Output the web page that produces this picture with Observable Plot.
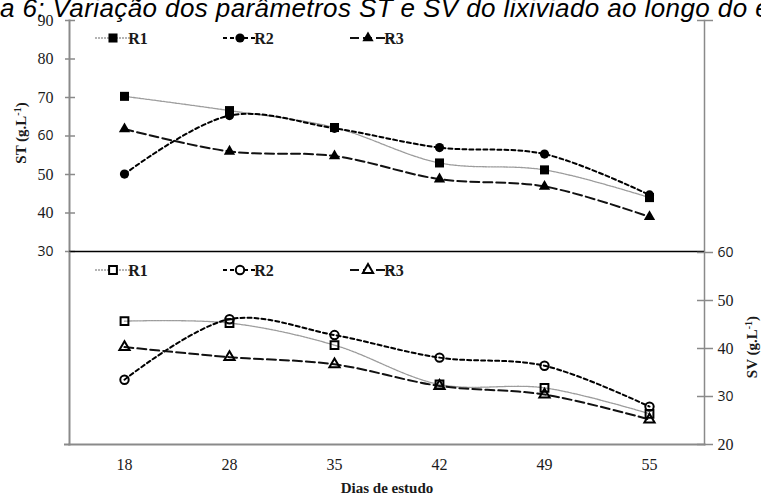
<!DOCTYPE html>
<html><head><meta charset="utf-8">
<script src="https://cdn.jsdelivr.net/npm/d3@7"></script>
<script src="https://cdn.jsdelivr.net/npm/@observablehq/plot@0.6"></script>
<style>
body{margin:0;background:#fff;}
#wrap{position:relative;width:761px;height:497px;overflow:hidden;background:#fff;}
#wrap svg{position:absolute;left:0;top:0;}
#wrap svg text{font-family:"Liberation Serif","Times New Roman",serif !important;}
#wrap svg text.sanslab{font-family:"Open Sans",sans-serif !important;font-size:14px;}
#title{position:absolute;left:0;top:-7px;font:italic 26px "Liberation Sans",Arial,sans-serif;letter-spacing:0.4px;white-space:nowrap;color:#000;z-index:5;}
</style></head>
<body><div id="wrap"><div id="title">a 6: Variação dos parâmetros ST e SV do lixiviado ao longo do e</div></div>
<script>
// ---- data ----
const days = ["18","28","35","42","49","55"];
const series = ["R1","R2","R3"];
const stR1 = [70.3, 66.6, 62.2, 53.0, 51.2, 44.0];
const stR2 = [50.1, 65.3, 62.0, 57.0, 55.3, 44.7];
const stR3 = [61.8, 56.0, 54.8, 48.8, 46.9, 39.0];
const svR1 = [45.7, 45.3, 40.7, 32.5, 31.8, 26.4];
const svR2 = [33.5, 46.1, 42.8, 38.1, 36.4, 27.9];
const svR3 = [40.3, 38.2, 36.7, 32.2, 30.4, 25.2];
const stTicks = [30, 40, 50, 60, 70, 80, 90];
const svTicks = [20, 30, 40, 50, 60];

const stVals = {R1: stR1, R2: stR2, R3: stR3};
const svVals = {R1: svR1, R2: svR2, R3: svR3};
const toRows = vals => series.flatMap(s => days.map((d, i) => ({day: d, value: vals[s][i], series: s})));
const stData = toRows(stVals);
const svData = toRows(svVals);

const sty = {
  R1: {stroke: "#9c9c9c", strokeWidth: 1.3, strokeDasharray: "2,1", symbol: "square", rF: 5.1, rO: 4.4},
  R2: {stroke: "#000", strokeWidth: 2, strokeDasharray: "4,3", symbol: "circle", rF: 4.6, rO: 4.2},
  R3: {stroke: "#111", strokeWidth: 2, strokeDasharray: "9,4", symbol: "triangle", rF: 4.2, rO: 3.8}
};
const markerOrder = ["R2", "R1", "R3"];
const W = 761, H = 497, ML = 69, MR = 57;
const grey = "#8a8a8a";

function seriesMarks(data, filled) {
  const marks = [];
  for (const s of ["R1", "R2", "R3"]) {
    marks.push(Plot.line(data.filter(d => d.series === s), {
      x: "day", y: "value", curve: "catmull-rom",
      stroke: sty[s].stroke, strokeWidth: sty[s].strokeWidth, strokeDasharray: sty[s].strokeDasharray
    }));
  }
  for (const s of markerOrder) {
    marks.push(Plot.dot(data.filter(d => d.series === s), filled ? {
      x: "day", y: "value", symbol: sty[s].symbol, r: sty[s].rF, fill: "#000", stroke: "none"
    } : {
      x: "day", y: "value", symbol: sty[s].symbol, r: sty[s].rO, fill: "none", stroke: "#000", strokeWidth: 2
    }));
  }
  return marks;
}

const common = {
  width: W, height: H, marginLeft: ML, marginRight: MR,
  x: {type: "point", domain: days, padding: 0.5},
  style: {background: "transparent", overflow: "visible", fontSize: "16px", color: "#1a1a1a"}
};
const lab = {tickSize: 0, label: null, fontSize: 16};

// ---- top panel (ST) ----
const topPlot = Plot.plot({
  ...common, marginTop: 20, marginBottom: H - 251,
  y: {domain: [30, 90]},
  marks: [
    Plot.frame({anchor: "left", stroke: grey, strokeWidth: 2}),
    Plot.frame({anchor: "right", stroke: grey, strokeWidth: 1.5}),
    Plot.axisY({ticks: stTicks, tickSize: 10, dx: 6, tickFormat: () => "", stroke: grey, strokeWidth: 1.5, label: null}),
    Plot.axisY({...lab, ticks: stTicks, tickPadding: 16}),
    Plot.axisY({anchor: "right", ticks: [90], tickSize: 16, dx: -8, tickFormat: () => "", stroke: grey, strokeWidth: 1.5, label: null}),
    Plot.axisX({ticks: [], label: null}),
    Plot.ruleY([30], {stroke: "#000", strokeWidth: 1.5}),
    ...seriesMarks(stData, true)
  ]
});

// ---- bottom panel (SV) ----
const bottomPlot = Plot.plot({
  ...common, marginTop: 252, marginBottom: H - 444,
  y: {domain: [20, 60]},
  marks: [
    Plot.frame({anchor: "left", stroke: grey, strokeWidth: 2}),
    Plot.frame({anchor: "right", stroke: grey, strokeWidth: 1.5}),
    Plot.frame({anchor: "bottom", stroke: grey, strokeWidth: 2}),
    Plot.axisY({ticks: [20], tickSize: 5, tickFormat: () => "", stroke: grey, strokeWidth: 2, label: null}),
    Plot.axisY({anchor: "right", ticks: svTicks, tickSize: 16, dx: -8, tickFormat: () => "", stroke: grey, strokeWidth: 1.5, label: null}),
    Plot.axisY({...lab, anchor: "right", ticks: svTicks, tickPadding: 13}),
    Plot.axisX({...lab, tickPadding: 14}),
    Plot.text(["Dias de estudo"], {frameAnchor: "bottom", dy: 48, fontWeight: "bold", fontSize: 15}),
    ...seriesMarks(svData, false)
  ]
});

const wrap = document.getElementById("wrap");
wrap.appendChild(topPlot);
wrap.appendChild(bottomPlot);

// the 30 and 60 labels are set in a sans face in the source
d3.selectAll("#wrap svg g[aria-label='y-axis tick label'] text")
  .filter(function () { return this.textContent === "30" || this.textContent === "60"; })
  .classed("sanslab", true);

// ---- legends ----
const legendItems = [
  {s: "R1", x0: 95, x1: 132, mx: 113, tx: 138},
  {s: "R2", x0: 223, x1: 258, mx: 240, tx: 264},
  {s: "R3", x0: 350, x1: 393, mx: 368, tx: 394}
];
const d3sym = {square: d3.symbolSquare, circle: d3.symbolCircle, triangle: d3.symbolTriangle};
function legend(svg, y, filled) {
  const g = d3.select(svg).append("g");
  for (const it of legendItems) {
    const st = sty[it.s];
    g.append("line").attr("x1", it.x0).attr("x2", it.x1).attr("y1", y).attr("y2", y)
      .attr("stroke", st.stroke).attr("stroke-width", st.strokeWidth).attr("stroke-dasharray", st.strokeDasharray);
    const r = filled ? st.rF : st.rO;
    g.append("path").attr("transform", `translate(${it.mx},${y})`)
      .attr("d", d3.symbol(d3sym[st.symbol], Math.PI * r * r)())
      .attr("fill", filled ? "#000" : "white").attr("stroke", filled ? "none" : "#000").attr("stroke-width", 2);
    g.append("text").attr("x", it.tx).attr("y", y).attr("dy", "0.35em")
      .attr("font-weight", "bold").attr("font-size", 16).attr("fill", "#1a1a1a").text(it.s);
  }
}
legend(topPlot, 38, true);
legend(bottomPlot, 270, false);

// ---- rotated axis titles ----
function vtitle(svg, x, y, name) {
  const t = d3.select(svg).append("text")
    .attr("transform", `translate(${x},${y}) rotate(-90)`)
    .attr("text-anchor", "middle").attr("dy", "0.35em")
    .attr("font-weight", "bold").attr("font-size", 15).attr("fill", "#1a1a1a");
  t.append("tspan").text(name + " (g.L");
  t.append("tspan").attr("dy", -5).attr("font-size", 10).text("-1");
  t.append("tspan").attr("dy", 5).text(")");
}
vtitle(topPlot, 21, 133, "ST");
vtitle(bottomPlot, 752, 347, "SV");
</script>
</body></html>
